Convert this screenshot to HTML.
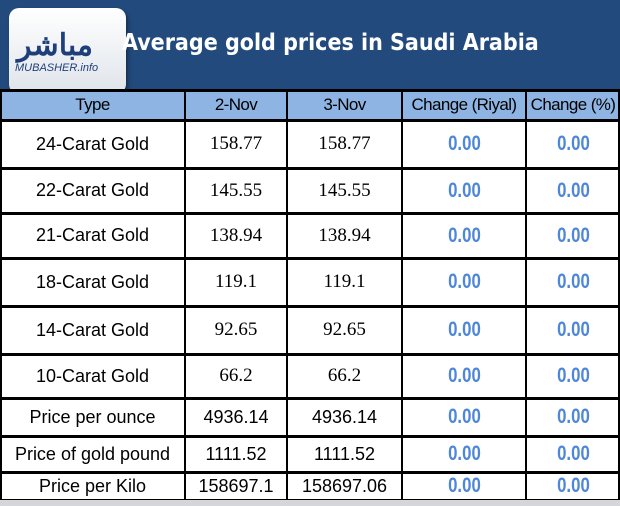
<!DOCTYPE html>
<html><head><meta charset="utf-8"><style>
body{margin:0;width:620px;height:506px;overflow:hidden;background:#fff;font-family:"Liberation Sans","DejaVu Sans",sans-serif;position:relative}
#hdr{position:absolute;left:0;top:0;width:620px;height:90px;background:#234a7d}
#logo{position:absolute;left:9px;top:8px;width:117px;height:86px;background:linear-gradient(#fff,#dfe4ea);border-radius:10px;box-shadow:2px 3px 4px #0006}
#title{position:absolute;left:122px;top:30px;color:#fff;font-size:23px;font-weight:bold;font-family:"DejaVu Sans Condensed","Liberation Sans",sans-serif;white-space:nowrap}
.c{position:absolute;box-sizing:border-box;display:flex;align-items:center;justify-content:center;font-size:18px;color:#000;white-space:nowrap}
.h{background:#8db4e2;font-size:17px;letter-spacing:-0.6px}
.num{font-family:"Liberation Serif",serif;font-size:19px}
.chg{color:#4f87d8;font-weight:bold;font-family:"Liberation Sans Narrow","Liberation Sans",sans-serif;font-size:21px}
.chg span{display:inline-block;transform:scaleX(0.8)}
.ln{position:absolute;background:#000}
#sb{position:absolute;left:0;top:500px;width:620px;height:6px;background:#d4d6da}
</style></head><body>
<div id="hdr">
<div id="logo">
<div style="position:absolute;left:8px;top:12px;font-size:30px;font-weight:bold;color:#1f3f7a;font-family:'Noto Sans CJK SC',sans-serif">مباشر</div>
<div style="position:absolute;left:6px;top:54px;font-size:11px;color:#1f3f7a;font-style:italic">MUBASHER.info</div>
</div>
<div id="title">Average gold prices in Saudi Arabia</div>
</div>
<div id="tbl"></div>
<div id="sb"></div>
<script>
const types=["24-Carat Gold","22-Carat Gold","21-Carat Gold","18-Carat Gold","14-Carat Gold","10-Carat Gold","Price per ounce","Price of gold pound","Price per Kilo"];
const nov2=["158.77","145.55","138.94","119.1","92.65","66.2","4936.14","1111.52","158697.1"];
const nov3=["158.77","145.55","138.94","119.1","92.65","66.2","4936.14","1111.52","158697.06"];
const chgRiyal=["0.00","0.00","0.00","0.00","0.00","0.00","0.00","0.00","0.00"];
const chgPct=["0.00","0.00","0.00","0.00","0.00","0.00","0.00","0.00","0.00"];
const headers=["Type","2-Nov","3-Nov","Change (Riyal)","Change (%)"];
const xs=[0,185,287,402,526,620];
const ys=[90,120,168,213,258,306,354,398,436,472,500];
const t=document.getElementById('tbl');
function cell(x0,x1,y0,y1,txt,cls,name){const d=document.createElement('div');d.className='c '+cls;
d.style.left=x0+'px';d.style.top=y0+'px';d.style.width=(x1-x0)+'px';d.style.height=(y1-y0)+'px';
if(cls==='chg'){const s=document.createElement('span');s.textContent=txt;d.appendChild(s);}else d.textContent=txt;


t.appendChild(d);}
headers.forEach((h,i)=>cell(xs[i],xs[i+1],ys[0],ys[1],h,'h','header-'+h.toLowerCase().replace(/[^a-z0-9]+/g,'-')));
types.forEach((ty,r)=>{const y0=ys[r+1],y1=ys[r+2];
cell(xs[0],xs[1],y0,y1,ty,'','type-cell');
cell(xs[1],xs[2],y0,y1,nov2[r],r<6?'num':'','nov2-value');
cell(xs[2],xs[3],y0,y1,nov3[r],r<6?'num':'','nov3-value');
cell(xs[3],xs[4],y0,y1,chgRiyal[r],'chg','change-riyal');
cell(xs[4],xs[5],y0,y1,chgPct[r],'chg','change-pct');});
function ln(x,y,w,h){const d=document.createElement('div');d.className='ln';d.style.left=x+'px';d.style.top=y+'px';d.style.width=w+'px';d.style.height=h+'px';


t.appendChild(d);}
ys.forEach(y=>ln(0,y-1,620,3));
xs.forEach((x,i)=>ln(i==5?618:Math.max(0,x-1),90,2,410));
</script>
</body></html>
